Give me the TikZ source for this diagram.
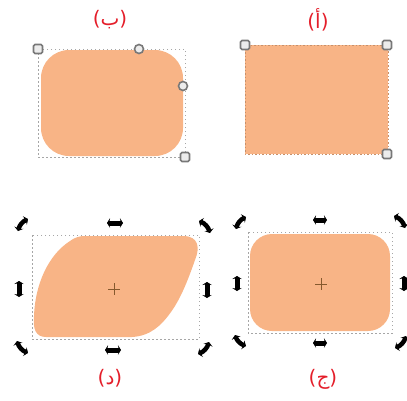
\documentclass[tikz,border=0pt]{standalone}
\usepackage{fontspec}
\setmainfont{DejaVu Sans}
\newfontfamily\arabicfont[Script=Arabic]{DejaVu Sans}
\usetikzlibrary{arrows.meta}
\definecolor{shapefill}{RGB}{248,180,134}
\definecolor{labred}{RGB}{228,30,42}
\definecolor{hgray}{RGB}{120,120,120}
\tikzset{
  x=1pt,y=-1pt,
  lab/.style={text=labred,font=\fontsize{20}{22}\selectfont,inner sep=0pt},
  bbox/.style={draw=gray!70,line width=0.8pt,dash pattern=on 1.5pt off 2.5pt},
  shp/.style={fill=shapefill,draw=shapefill!80!black,line width=0.6pt,dash pattern=on 1.5pt off 2pt},
  sqh/.style={draw=hgray,line width=1.6pt,fill=gray!15,rounded corners=1.5pt},
  cih/.style={draw=hgray,line width=1.6pt,fill=gray!15},
  rh/.style={line width=4.5pt,black,{Stealth[length=3.5pt,width=9.5pt]}-{Stealth[length=3.5pt,width=9.5pt]}},
  mh/.style={line width=5pt,black,{Stealth[length=3pt,width=9.5pt]}-{Stealth[length=3pt,width=9.5pt]}},
  cross/.style={draw=brown!70!black,line width=0.8pt}
}
\begin{document}
\begin{tikzpicture}
\useasboundingbox (0,0) rectangle (407,400);
% labels
\node[lab] (lb) at (110,20) {({\arabicfont ب})};
\node[lab] (la) at (318,20) {({\arabicfont أ})};
\node[lab] (ld) at (110,378) {({\arabicfont د})};
\node[lab] (lj) at (323,379) {({\arabicfont ج})};

% panel a (alif): plain rectangle
\draw[shp] (245,45) rectangle (388,154);
\draw[sqh] (240.5,40.5) rectangle (249.5,49.5);
\draw[sqh] (382.5,40.5) rectangle (391.5,49.5);
\draw[sqh] (382.5,149.5) rectangle (391.5,158.5);

% panel b: rounded rectangle with corner handles
\draw[bbox] (38,49) rectangle (185,157);
\fill[shapefill,rounded corners=28pt] (41,50) rectangle (183,156);
\draw[sqh] (33.5,44.5) rectangle (42.5,53.5);
\draw[sqh] (180.5,152.5) rectangle (189.5,161.5);
\draw[cih] (139,49) circle (4.5);
\draw[cih] (183,86) circle (4.5);

% panel j: rounded rect with rotate handles
\draw[bbox] (248,232) rectangle (392,333);
\fill[shapefill,rounded corners=22pt] (250,234) rectangle (390,331);
\draw[cross] (315,284) -- (327,284) (321,278) -- (321,290);
\draw[rh] (236,229) to[bend left=25] (246,217);
\draw[rh] (394,216) to[bend left=25] (405,228);
\draw[rh] (235,335) to[bend right=25] (246,346);
\draw[rh] (395,348) to[bend right=25] (406,336);
\draw[mh] (313,220) -- (327,220);
\draw[mh] (313,343) -- (327,343);
\draw[mh] (237,276) -- (237,291);
\draw[mh] (404,276) -- (404,291);

% panel d: skewed shape with rotate handles
\draw[bbox] (32,235) rectangle (199,339);
\fill[shapefill] (84,236) -- (183,236)
  .. controls (199,236) and (200,248) .. (195,260)
  .. controls (188,280) and (181,298) .. (171,312)
  .. controls (161,326) and (150,336) .. (132,337)
  -- (46,337)
  .. controls (35,337) and (33,328) .. (34,316)
  .. controls (35,285) and (48,255) .. (70,241)
  .. controls (74,238) and (79,236) .. (84,236) -- cycle;
\draw[cross] (108,289) -- (120,289) (114,283) -- (114,295);
\draw[rh] (18,231) to[bend left=25] (28,219);
\draw[rh] (199,221) to[bend left=25] (210,233);
\draw[rh] (17,341) to[bend right=25] (28,353);
\draw[rh] (198,354) to[bend right=25] (209,342);
\draw[mh] (107,223) -- (123,223);
\draw[mh] (105,350) -- (121,350);
\draw[mh] (19,281) -- (19,297);
\draw[mh] (207,282) -- (207,298);
\end{tikzpicture}
\end{document}
